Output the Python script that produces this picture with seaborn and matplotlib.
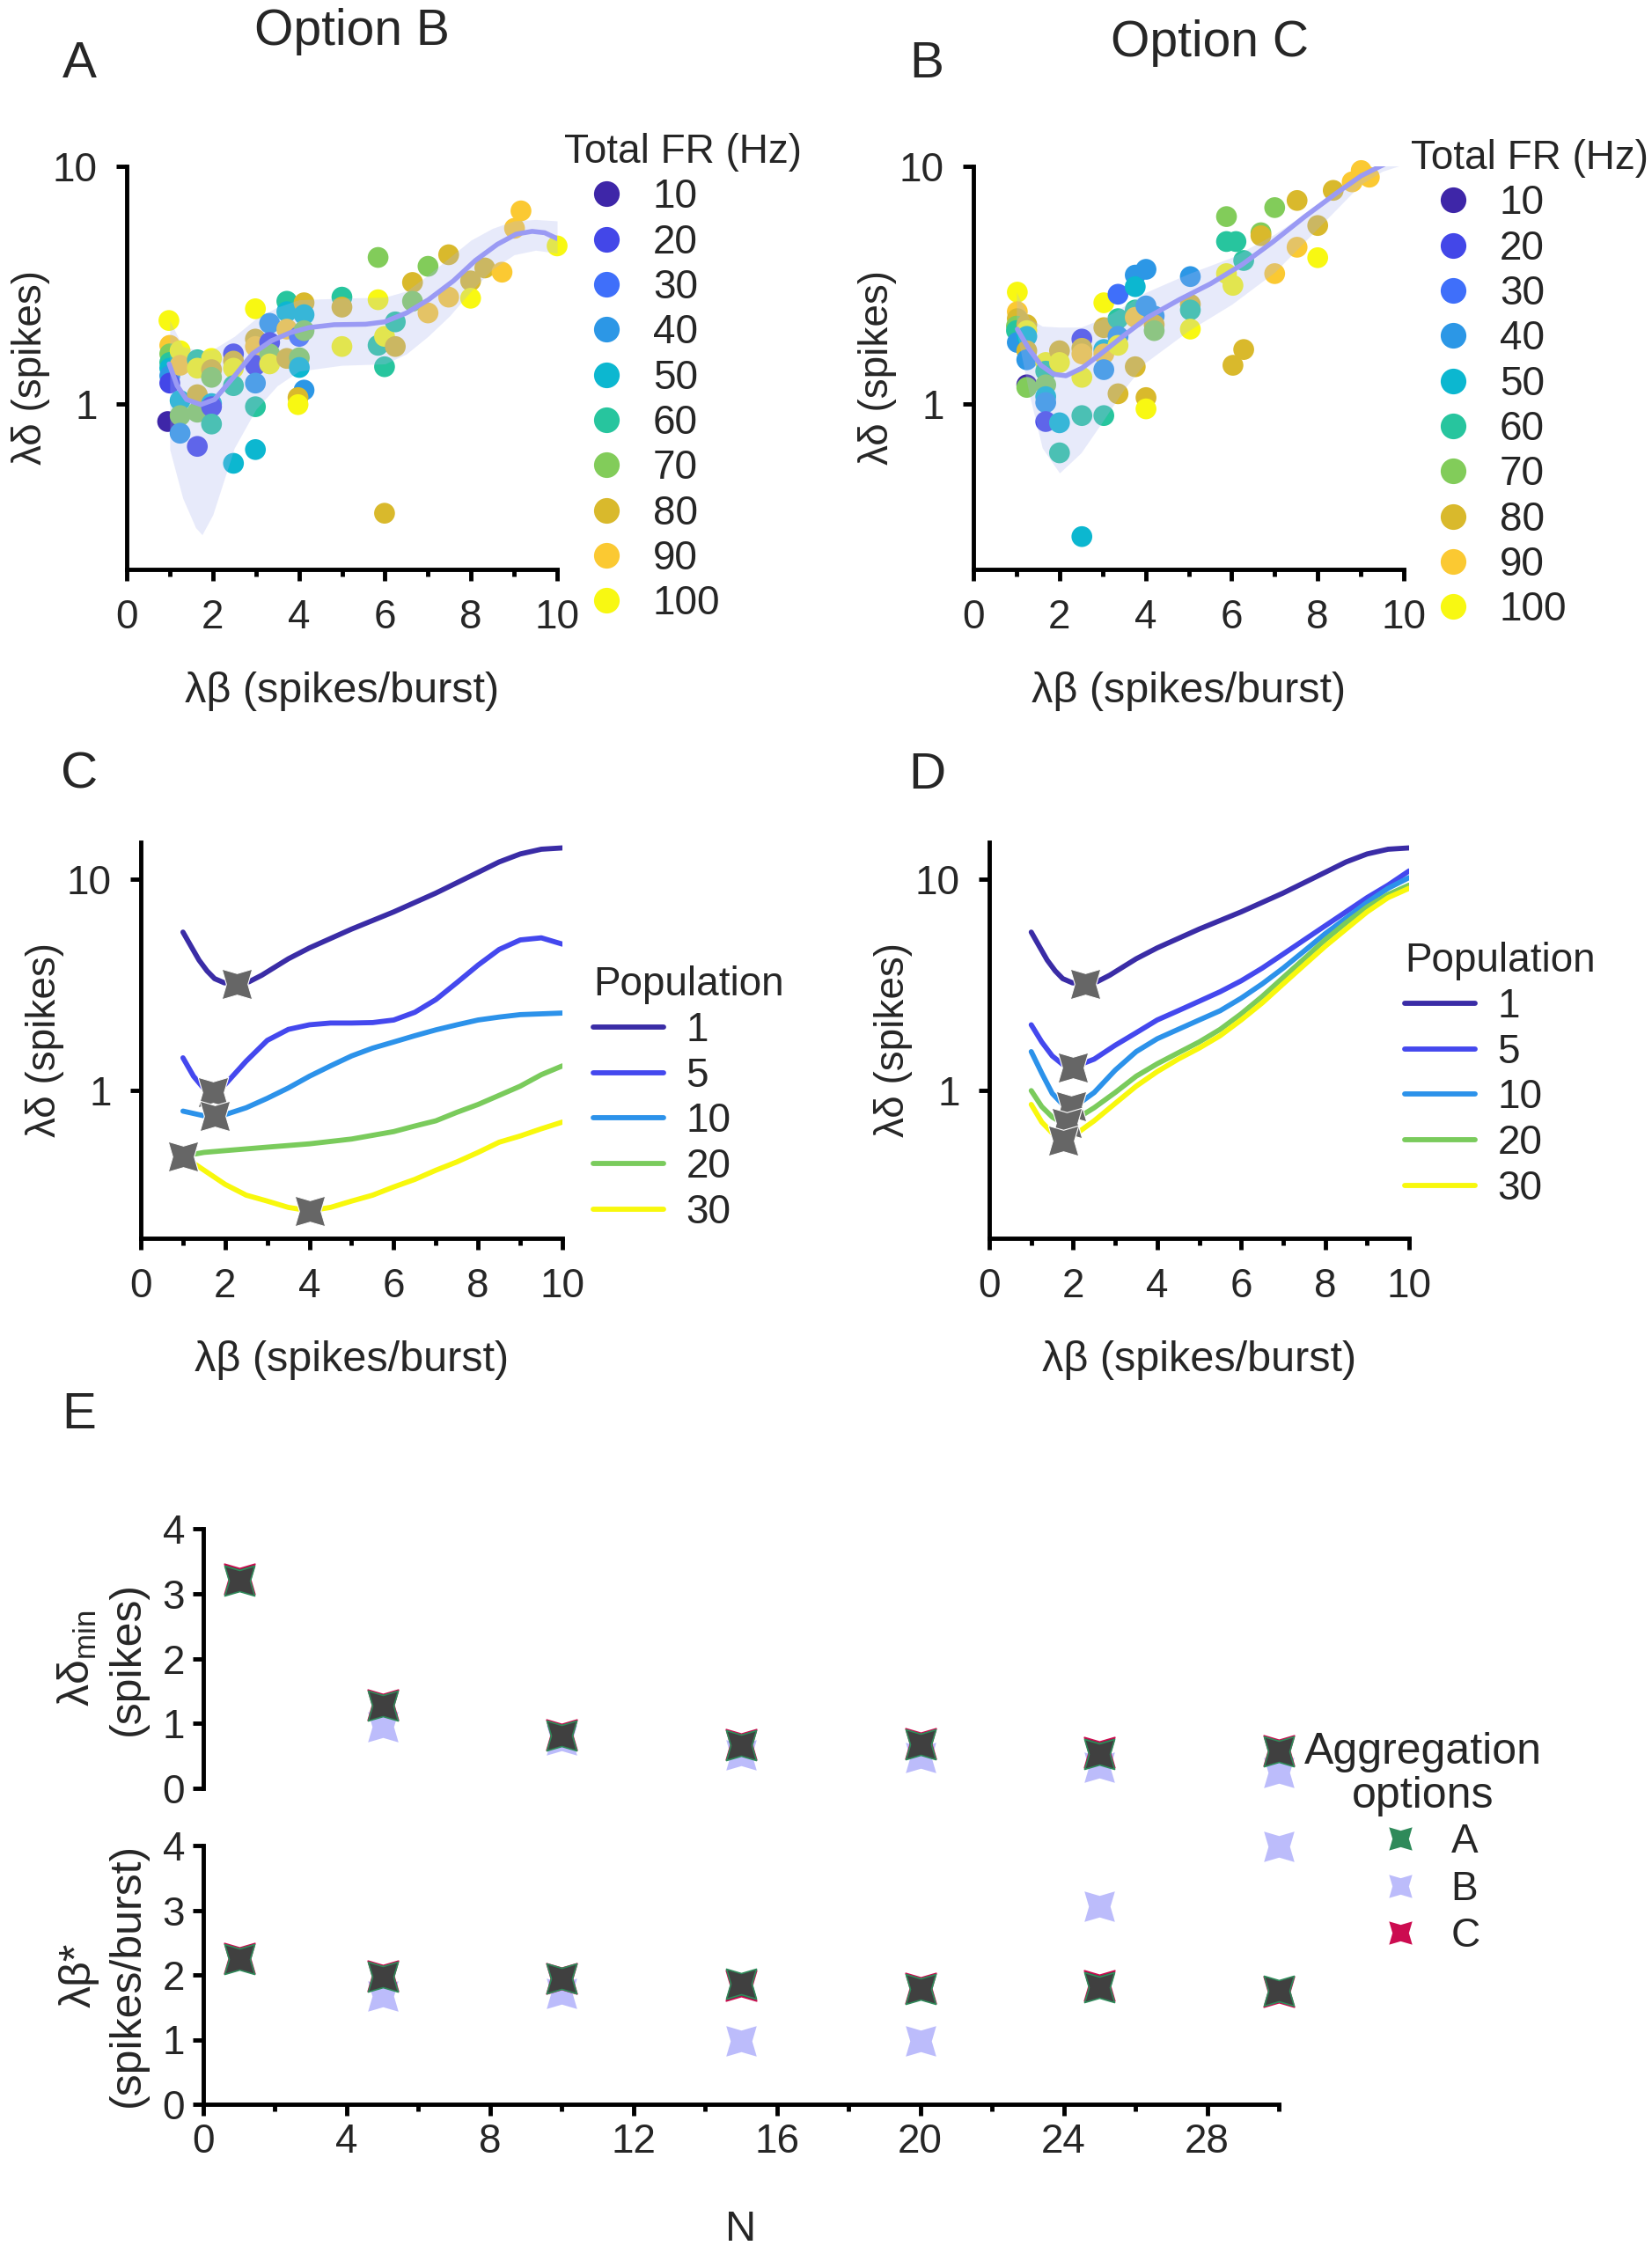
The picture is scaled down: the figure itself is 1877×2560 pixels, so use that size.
import numpy as np
import pandas as pd
import matplotlib
matplotlib.use("Agg")
import matplotlib.pyplot as plt
import seaborn as sns
from matplotlib.lines import Line2D
from matplotlib.path import Path
from matplotlib.transforms import Affine2D
from matplotlib.ticker import MultipleLocator, NullLocator, FixedLocator

# ----------------------------------------------------------
# DATA
# ----------------------------------------------------------
fr_levels = [10, 20, 30, 40, 50, 60, 70, 80, 90, 100]
fr_colors = ["#3e26a8", "#4347e8", "#3f6ffa", "#2c97e6", "#0cb7d0",
             "#27c59e", "#82cc5a", "#d9b92c", "#fbc932", "#f8f812"]

# panel A - option B scatter
a_x = [0.98, 1.0, 1.0, 1.0, 1.0, 1.0, 1.0, 0.95, 1.24, 1.24, 1.24, 1.24, 1.24,
       1.64, 1.64, 1.64, 1.64, 1.64, 1.97, 1.97, 1.97, 1.97, 1.97, 1.97,
       2.48, 2.48, 2.48, 2.48, 2.48, 2.99, 2.99, 2.99, 2.99, 2.99, 2.99, 2.99,
       3.32, 3.32, 3.32, 3.32, 3.72, 3.72, 3.72, 3.72, 4.01, 4.01, 4.01,
       4.12, 4.12, 4.12, 4.12, 3.98, 3.98, 5.0, 5.0, 5.0, 5.84, 5.84, 5.84,
       5.99, 5.99, 5.99, 6.24, 6.24, 6.64, 6.64, 7.0, 7.0, 7.48, 7.48,
       7.99, 7.99, 8.32, 8.72, 9.01, 9.16, 10.0]
a_y = [2.24, 1.76, 1.62, 1.49, 1.41, 1.31, 1.22, 0.84, 1.67, 1.45, 1.03, 0.89, 0.75,
       1.53, 1.41, 1.09, 0.92, 0.66, 1.55, 1.39, 1.29, 1.0, 0.97, 0.82,
       1.62, 1.51, 1.41, 1.19, 0.56, 2.51, 1.87, 1.74, 1.45, 1.22, 0.97, 0.64,
       2.18, 1.81, 1.62, 1.47, 2.70, 2.44, 2.06, 1.55, 1.92, 1.56, 1.42,
       2.66, 2.37, 2.03, 1.14, 1.06, 0.99, 2.81, 2.55, 1.74, 4.13, 2.74, 1.76,
       1.92, 1.43, 0.345, 2.21, 1.74, 3.24, 2.70, 3.79, 2.41, 4.24, 2.81,
       3.29, 2.78, 3.73, 3.58, 5.48, 6.49, 4.62]
a_fr = [100, 90, 70, 60, 50, 40, 20, 10, 100, 90, 50, 70, 40,
        60, 100, 80, 70, 20, 100, 80, 70, 50, 20, 60,
        20, 80, 100, 60, 50, 100, 80, 90, 20, 40, 60, 50,
        40, 20, 70, 100, 60, 50, 90, 80, 30, 70, 50,
        80, 50, 70, 40, 80, 100, 60, 80, 100, 70, 100, 60,
        100, 60, 80, 60, 80, 80, 70, 70, 90, 80, 90,
        80, 100, 80, 90, 90, 90, 100]

# panel A fit line and band
a_fit_x = [0.985, 1.17, 1.39, 1.72, 2.04, 2.48, 2.92, 3.36, 3.80, 4.23, 4.82,
           5.55, 5.99, 6.50, 7.01, 7.59, 8.10, 8.61, 9.05, 9.42, 9.71, 10.0]
a_fit_y = [1.47, 1.19, 1.04, 0.99, 1.04, 1.29, 1.62, 1.84, 1.99, 2.09, 2.15,
           2.16, 2.21, 2.41, 2.74, 3.29, 4.01, 4.69, 5.18, 5.32, 5.25, 4.96]
a_band_x = [1.0, 1.3, 1.6, 1.75, 2.0, 2.5, 3.0, 3.5, 4.0, 5.0, 6.0, 6.5, 7.0,
            7.5, 8.0, 8.5, 9.0, 9.5, 10.0]
a_band_hi = [2.24, 1.74, 1.69, 1.67, 1.69, 1.92, 2.28, 2.55, 2.74, 2.78, 2.81, 2.98, 3.48,
             4.13, 4.89, 5.48, 5.89, 5.97, 5.89]
a_band_lo = [0.64, 0.40, 0.30, 0.28, 0.34, 0.65, 0.945, 1.19, 1.37, 1.45, 1.47, 1.62, 1.92,
             2.34, 2.98, 3.69, 4.24, 4.43, 4.31]

# panel B - option C scatter
b_x = [1.02, 1.02, 1.02, 1.0, 1.0, 1.02, 1.24, 1.24, 1.24, 1.24, 1.24, 1.24, 1.24,
       1.68, 1.68, 1.68, 1.68, 1.68, 1.68, 2.0, 2.0, 2.0, 2.0,
       2.52, 2.52, 2.52, 2.52, 2.52, 2.52, 3.03, 3.03, 3.03, 3.03, 3.03, 3.03,
       3.36, 3.36, 3.36, 3.36, 3.36, 3.76, 3.76, 3.76, 3.76, 3.76,
       4.01, 4.01, 4.01, 4.01, 4.2, 4.2, 4.2, 5.04, 5.04, 5.04, 5.04,
       5.88, 5.88, 6.1, 5.88, 6.03, 6.28, 6.03, 6.28, 6.68, 6.68, 7.0, 7.0,
       7.52, 7.52, 8.0, 8.0, 8.36, 8.8, 9.01, 9.2]
b_y = [2.95, 2.44, 2.28, 2.12, 2.03, 1.81, 2.15, 2.03, 1.92, 1.67, 1.53, 1.20, 1.17,
       1.49, 1.37, 1.20, 1.07, 1.01, 0.84, 1.67, 1.49, 0.83, 0.62,
       1.87, 1.71, 1.62, 1.29, 0.89, 0.275, 2.66, 2.09, 1.69, 1.62, 1.39, 0.89,
       2.89, 2.28, 1.92, 1.76, 1.10, 3.48, 3.11, 2.48, 2.31, 1.43,
       3.68, 2.58, 1.06, 0.95, 2.34, 2.15, 2.03, 3.43, 2.62, 2.48, 2.06,
       6.14, 4.82, 4.82, 3.53, 3.15, 4.01, 1.45, 1.69, 5.25, 5.10, 6.7, 3.53,
       7.18, 4.56, 5.63, 4.12, 7.92, 8.6, 9.6, 9.0]
b_fr = [100, 90, 80, 70, 60, 40, 80, 100, 50, 80, 40, 10, 70,
        100, 60, 70, 50, 40, 20, 80, 100, 50, 60,
        20, 80, 90, 100, 60, 50, 100, 80, 50, 90, 40, 60,
        30, 60, 40, 100, 80, 40, 50, 60, 90, 80,
        40, 40, 80, 100, 40, 80, 70, 40, 80, 60, 100,
        70, 60, 60, 100, 100, 60, 80, 80, 70, 80, 70, 90,
        80, 90, 80, 100, 80, 90, 90, 90]

b_fit_x = [1.02, 1.28, 1.57, 1.86, 2.15, 2.52, 2.96, 3.47, 4.05, 4.78, 5.51,
           6.24, 6.97, 7.70, 8.43, 9.01, 9.45, 9.89, 10.0]
b_fit_y = [2.06, 1.71, 1.45, 1.33, 1.31, 1.41, 1.62, 1.92, 2.31, 2.74, 3.20,
           3.85, 4.82, 6.14, 7.70, 9.12, 10.0, 10.9, 11.1]
b_band_x = [1.0, 1.3, 1.6, 2.0, 2.5, 3.0, 3.5, 4.0, 5.0, 6.0, 7.0, 8.0, 9.0, 9.5, 10.0]
b_band_hi = [2.95, 2.28, 2.12, 2.10, 2.10, 2.28, 2.58, 2.94, 3.53, 4.13, 5.18, 6.87, 8.87, 9.94, 10.6]
b_band_lo = [2.03, 1.09, 0.65, 0.51, 0.62, 0.84, 1.15, 1.49, 2.03, 2.62, 3.58, 5.48, 8.39, 9.53, 10.2]

# panels C / D - population curves
populations = [1, 5, 10, 20, 30]
pop_colors = ["#3a2ca6", "#4448ee", "#2c92ea", "#7acb5c", "#f8f80c"]

pop1_x = [1.0, 1.19, 1.38, 1.57, 1.75, 1.98, 2.28, 2.57, 2.87, 3.5, 4.0, 5.0, 6.0, 7.0,
          8.0, 8.5, 9.0, 9.5, 10.0]
pop1_y = [5.63, 4.83, 4.15, 3.69, 3.39, 3.24, 3.20, 3.28, 3.52, 4.21, 4.74, 5.82, 7.02, 8.62,
          10.8, 12.1, 13.2, 13.9, 14.1]

c_curves = {
    1: (pop1_x, pop1_y),
    5: ([1.0, 1.25, 1.5, 1.72, 2.0, 2.5, 3.0, 3.5, 4.0, 4.5, 5.0, 5.5, 6.0, 6.5, 7.0, 7.5, 8.0, 8.5, 9.0, 9.5, 10.0],
        [1.43, 1.17, 1.02, 0.98, 1.07, 1.38, 1.73, 1.95, 2.05, 2.09, 2.09, 2.10, 2.16, 2.35, 2.70, 3.25, 3.93, 4.66, 5.17, 5.29, 4.94]),
    10: ([1.0, 1.5, 2.0, 2.5, 3.0, 3.5, 4.0, 4.5, 5.0, 5.5, 6.0, 6.5, 7.0, 7.5, 8.0, 8.5, 9.0, 9.5, 10.0],
         [0.80, 0.76, 0.77, 0.83, 0.92, 1.03, 1.17, 1.31, 1.46, 1.59, 1.70, 1.82, 1.94, 2.05, 2.16, 2.23, 2.29, 2.31, 2.33]),
    20: ([1.0, 1.5, 2.0, 3.0, 4.0, 5.0, 6.0, 6.5, 7.0, 7.5, 8.0, 8.5, 9.0, 9.5, 10.0],
         [0.49, 0.51, 0.52, 0.54, 0.56, 0.59, 0.64, 0.68, 0.72, 0.79, 0.86, 0.95, 1.05, 1.19, 1.31]),
    30: ([1.0, 1.5, 2.0, 2.5, 3.0, 3.5, 4.0, 4.5, 5.0, 5.5, 6.0, 6.5, 7.0, 7.5, 8.0, 8.5, 9.0, 9.5, 10.0],
         [0.49, 0.42, 0.36, 0.32, 0.30, 0.28, 0.27, 0.28, 0.30, 0.32, 0.35, 0.38, 0.42, 0.46, 0.51, 0.57, 0.61, 0.66, 0.71]),
}
c_min_x = [2.28, 1.72, 1.75, 1.0, 4.0]
c_min_y = [3.2, 0.98, 0.76, 0.49, 0.27]

d_x = [1.0, 1.25, 1.5, 1.75, 2.0, 2.5, 3.0, 3.5, 4.0, 4.5, 5.0, 5.5, 6.0, 6.5, 7.0, 7.5, 8.0, 8.5, 9.0, 9.5, 10.0]
d_curves = {
    1: (pop1_x, pop1_y),
    5: (d_x, [2.05, 1.70, 1.46, 1.33, 1.29, 1.41, 1.64, 1.88, 2.16, 2.39, 2.65, 2.94, 3.31, 3.80,
              4.43, 5.17, 6.03, 7.03, 8.20, 9.40, 10.97]),
    10: (d_x, [1.53, 1.21, 0.97, 0.86, 0.83, 0.98, 1.25, 1.53, 1.76, 1.95, 2.16, 2.39, 2.74, 3.20,
               3.80, 4.58, 5.53, 6.56, 7.79, 9.08, 10.2]),
    20: (d_x, [1.0, 0.84, 0.75, 0.70, 0.72, 0.83, 0.98, 1.17, 1.34, 1.51, 1.70, 1.95, 2.31, 2.79,
               3.43, 4.21, 5.17, 6.24, 7.40, 8.48, 9.40]),
    30: (d_x, [0.86, 0.71, 0.63, 0.59, 0.61, 0.72, 0.87, 1.05, 1.23, 1.41, 1.59, 1.82, 2.16, 2.60,
               3.20, 3.93, 4.82, 5.82, 7.02, 8.20, 9.08]),
}
d_min_x = [2.28, 1.99, 1.95, 1.84, 1.76]
d_min_y = [3.2, 1.29, 0.84, 0.70, 0.58]

# panel E - aggregation options
n_vals = [1, 5, 10, 15, 20, 25, 30]
dmin_A = [3.2, 1.27, 0.82, 0.66, 0.68, 0.53, 0.57]
dmin_B = [3.2, 0.95, 0.75, 0.52, 0.47, 0.32, 0.25]
dmin_C = [3.23, 1.29, 0.83, 0.68, 0.69, 0.55, 0.58]
bstar_A = [2.25, 1.97, 1.94, 1.86, 1.78, 1.81, 1.75]
bstar_B = [2.25, 1.67, 1.71, 0.98, 0.98, 3.06, 3.98]
bstar_C = [2.26, 1.98, 1.94, 1.83, 1.79, 1.84, 1.74]
opt_colors = {"A": "#2f8a5a", "B": "#bcbcfb", "C": "#cc0c50"}

# ----------------------------------------------------------
# STYLE
# ----------------------------------------------------------
sns.set_theme(style="ticks")
plt.rcParams['font.family'] = ['Liberation Sans', 'DejaVu Sans']
plt.rcParams['mathtext.fontset'] = 'custom'
plt.rcParams['mathtext.rm'] = 'Liberation Sans'
plt.rcParams['mathtext.it'] = 'Liberation Sans:italic'

FS = 33      # ticks / legends
FS_X = 35    # x labels
FS_Y = 33    # y labels
LW = 3.5
W, H = 1877, 2560

star = Affine2D().rotate_deg(45).transform_path(Path.unit_regular_star(4, 0.5))

fig = plt.figure(figsize=(W / 100, H / 100), dpi=100)


def box(x0, y0, x1, y1):
    return [x0 / W, 1 - y1 / H, (x1 - x0) / W, (y1 - y0) / H]


def style_axes(ax, pad=15):
    sns.despine(ax=ax)
    for s in ("left", "bottom"):
        ax.spines[s].set_linewidth(LW)
        ax.spines[s].set_color("black")
    ax.tick_params(which="major", length=9, width=LW, labelsize=FS, color="black", pad=pad)
    ax.tick_params(which="minor", length=5.5, width=LW, color="black")


def log_y(ax, top):
    ax.set_yscale("log")
    ax.set_ylim(0.2, top)
    ax.yaxis.set_major_locator(FixedLocator([1, 10]))
    ax.set_yticklabels(["1", "10"])
    ax.yaxis.set_minor_locator(NullLocator())


def x_0_10(ax):
    ax.set_xlim(0, 10)
    ax.xaxis.set_major_locator(MultipleLocator(2))
    ax.xaxis.set_minor_locator(MultipleLocator(1))


fr_pal = dict(zip(fr_levels, fr_colors))


def scatter_panel(ax, xs, ys, frs, fx, fy, bx, bhi, blo, leg_x, leg_y):
    df = pd.DataFrame({"x": xs, "y": ys, "fr": frs})
    sns.scatterplot(data=df, x="x", y="y", hue="fr", palette=fr_pal, s=290,
                    linewidth=0, ax=ax, legend=False, zorder=1, clip_on=False)
    ax.fill_between(bx, blo, bhi, color="#aab4f0", alpha=0.28, lw=0, zorder=2)
    sns.lineplot(x=fx, y=fy, color="#9a9af4", lw=4, ax=ax, zorder=3, sort=False)
    log_y(ax, 10)
    x_0_10(ax)
    style_axes(ax)
    ax.set_xlabel("λβ (spikes/burst)", fontsize=FS_X, labelpad=28)
    ax.set_ylabel("λδ (spikes)", fontsize=FS_Y, labelpad=2)
    handles = [Line2D([], [], marker="o", ls="none", color=c, markersize=21, mew=0)
               for c in fr_colors]
    ax.legend(handles, [str(v) for v in fr_levels], title="Total FR (Hz)",
              fontsize=FS, title_fontsize=FS, frameon=False, loc="upper left",
              bbox_to_anchor=(leg_x / W, 1 - leg_y / H), bbox_transform=fig.transFigure,
              alignment="left", handlelength=2.1, handletextpad=0.1,
              labelspacing=0.16, borderpad=0, borderaxespad=0)


def curve_panel(ax, curves, mx, my, leg_x, leg_y):
    rows = []
    for p in populations:
        xs, ys = curves[p]
        rows += [{"x": a, "y": b, "pop": p} for a, b in zip(xs, ys)]
    df = pd.DataFrame(rows)
    sns.lineplot(data=df, x="x", y="y", hue="pop", palette=dict(zip(populations, pop_colors)),
                 lw=4.2, ax=ax, legend=False, sort=False, zorder=2)
    ax.scatter(mx, my, marker=star, s=620, color="#666666", edgecolor="white",
               linewidth=0.8, zorder=3)
    log_y(ax, 15)
    x_0_10(ax)
    style_axes(ax)
    ax.set_xlabel("λβ (spikes/burst)", fontsize=FS_X, labelpad=28)
    ax.set_ylabel("λδ (spikes)", fontsize=FS_Y, labelpad=2)
    handles = [Line2D([], [], color=c, lw=4.2) for c in pop_colors]
    ax.legend(handles, [str(p) for p in populations], title="Population",
              fontsize=FS, title_fontsize=FS, frameon=False, loc="upper left",
              bbox_to_anchor=(leg_x / W, 1 - leg_y / H), bbox_transform=fig.transFigure,
              alignment="left", handlelength=1.75, handletextpad=0.55,
              labelspacing=0.17, borderpad=0, borderaxespad=0)


# ----------------------------------------------------------
# PANELS A, B
# ----------------------------------------------------------
axA = fig.add_axes(box(144, 189, 633, 647))
scatter_panel(axA, a_x, a_y, a_fr, a_fit_x, a_fit_y, a_band_x, a_band_hi, a_band_lo, 641, 151)

axB = fig.add_axes(box(1106, 189, 1595, 647))
scatter_panel(axB, b_x, b_y, b_fr, b_fit_x, b_fit_y, b_band_x, b_band_hi, b_band_lo, 1603, 158)

# ----------------------------------------------------------
# PANELS C, D
# ----------------------------------------------------------
axC = fig.add_axes(box(160, 957, 639, 1407))
curve_panel(axC, c_curves, c_min_x, c_min_y, 674, 1097)

axD = fig.add_axes(box(1124, 957, 1601, 1407))
curve_panel(axD, d_curves, d_min_x, d_min_y, 1596, 1070)

# ----------------------------------------------------------
# PANEL E
# ----------------------------------------------------------
axE1 = fig.add_axes(box(231, 1737, 1453, 2032))
axE2 = fig.add_axes(box(231, 2097, 1453, 2391))

for ax, yA, yB, yC in ((axE1, dmin_A, dmin_B, dmin_C), (axE2, bstar_A, bstar_B, bstar_C)):
    sns.scatterplot(x=n_vals, y=yB, marker=star, s=620, color=opt_colors["B"],
                    linewidth=0, ax=ax, zorder=2, clip_on=False)
    sns.scatterplot(x=n_vals, y=yC, marker=star, s=620, color="#444444",
                    edgecolor=opt_colors["C"], linewidth=1.2, ax=ax, zorder=3, clip_on=False)
    sns.scatterplot(x=n_vals, y=yA, marker=star, s=600, color="#404040",
                    edgecolor=opt_colors["A"], linewidth=1.2, ax=ax, zorder=4, clip_on=False)
    ax.set_xlim(0, 30)
    ax.set_ylim(0, 4)
    ax.yaxis.set_major_locator(MultipleLocator(1))
    style_axes(ax, pad=6)

axE1.spines["bottom"].set_visible(False)
axE1.tick_params(axis="x", which="both", bottom=False, labelbottom=False)
axE2.xaxis.set_major_locator(FixedLocator([0, 4, 8, 12, 16, 20, 24, 28]))
axE2.xaxis.set_minor_locator(MultipleLocator(2))
axE2.set_xlabel("N", fontsize=FS_X, labelpad=40)
axE1.set_ylabel("λδ$_\\mathregular{min}$\n(spikes)", fontsize=36, linespacing=1.25)
axE2.set_ylabel("λβ*\n(spikes/burst)", fontsize=36, linespacing=1.25)
axE1.yaxis.set_label_coords(-0.052, 0.5)
axE2.yaxis.set_label_coords(-0.052, 0.5)

# aggregation legend: centred title text plus entries
fig.text(1617 / W, 1 - 2016 / H, "Aggregation\noptions", fontsize=36, ha="center",
         va="center", multialignment="center", linespacing=1.12)
e_handles = [Line2D([], [], marker=star, ls="none", color=opt_colors[k], markersize=19, mew=0)
             for k in ("A", "B", "C")]
axE1.legend(e_handles, ["A", "B", "C"], fontsize=FS, frameon=False, loc="upper left",
            bbox_to_anchor=(1573 / W, 1 - 2071 / H), bbox_transform=fig.transFigure,
            handlelength=0.8, handletextpad=0.85, labelspacing=0.21,
            borderpad=0, borderaxespad=0)

# ----------------------------------------------------------
# PANEL LETTERS & TITLES
# ----------------------------------------------------------
for lbl, px, py in (("A", 90, 73), ("B", 1053, 73), ("C", 90, 881), ("D", 1053, 881), ("E", 90, 1608)):
    fig.text(px / W, 1 - py / H, lbl, fontsize=42, ha="center", va="center")
fig.text(400 / W, 1 - 36 / H, "Option B", fontsize=41, ha="center", va="center")
fig.text(1374 / W, 1 - 49 / H, "Option C", fontsize=41, ha="center", va="center")

fig.savefig("out.png", dpi=100)
